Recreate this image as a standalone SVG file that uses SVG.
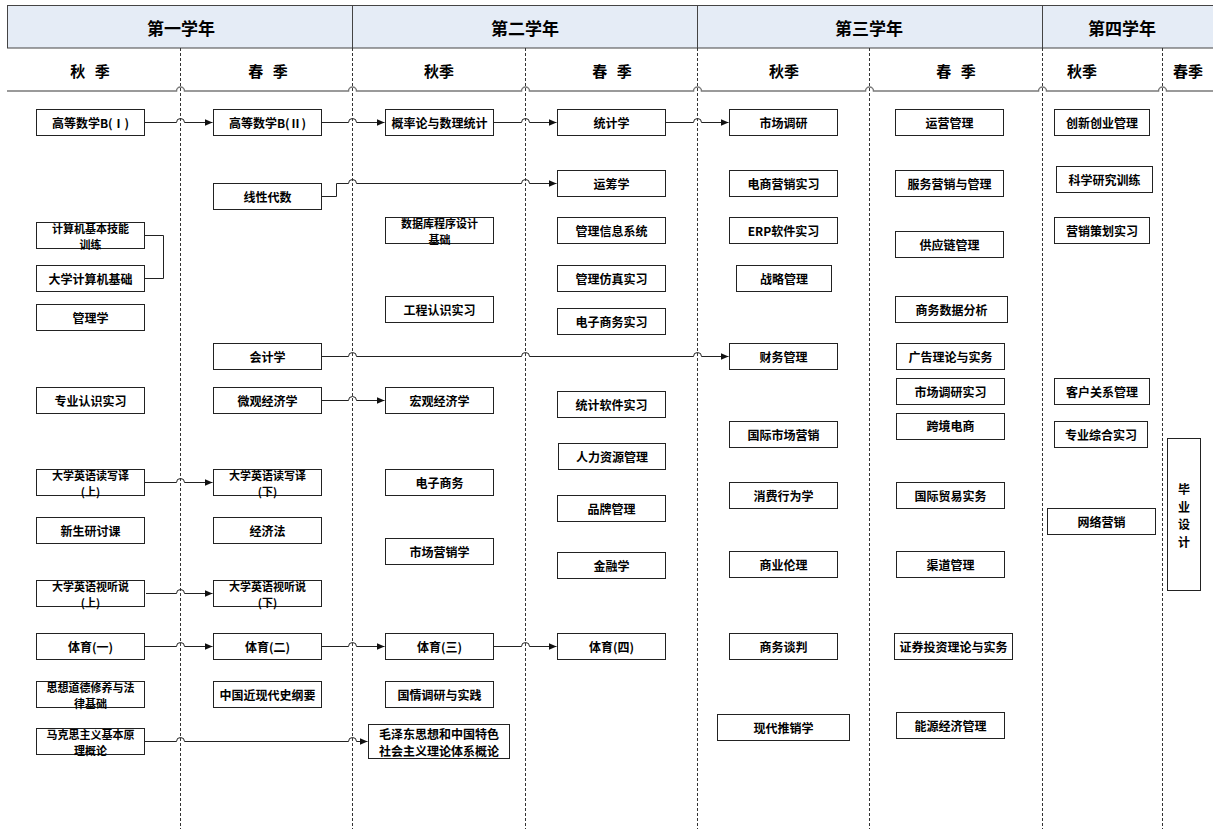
<svg xmlns="http://www.w3.org/2000/svg" width="1213" height="829" viewBox="0 0 1213 829">
<style>
.bg{fill:#ffffff}
.hdr{fill:#E5ECF6;stroke:#444;stroke-width:1}
.div{stroke:#444;stroke-width:1}
.dash{stroke:#333;stroke-width:1;stroke-dasharray:3,2;fill:none}
.sep{stroke:#7a7a7a;stroke-width:1.5;fill:none}
.yr{font-family:"Noto Sans CJK SC","Noto Sans",sans-serif;font-size:17px;font-weight:bold;fill:#000;text-anchor:middle;dominant-baseline:central}
.sm{font-family:"Noto Sans CJK SC","Noto Sans",sans-serif;font-size:15px;font-weight:bold;fill:#000;text-anchor:middle;dominant-baseline:central}
.box{fill:#fff;stroke:#222;stroke-width:1}
.t{font-family:"Noto Sans CJK SC","Noto Sans",sans-serif;font-size:12px;font-weight:bold;fill:#000;text-anchor:middle;dominant-baseline:central}
.t2{font-size:11px}
.c{stroke:#222;stroke-width:1;fill:none}
.a{marker-end:url(#arr)}
</style>
<defs>
<marker id="arr" markerUnits="userSpaceOnUse" markerWidth="9" markerHeight="8" refX="8" refY="3.5" orient="auto">
<path d="M0,0 L8,3.5 L0,7 z" fill="#111"/>
</marker>
</defs>
<rect class="bg" x="0" y="0" width="1213" height="829"/>
<g id="header">
<rect class="hdr" x="7.5" y="5.5" width="1210" height="42.5"/>
<line class="div" x1="352.5" y1="5.5" x2="352.5" y2="48"/>
<line class="div" x1="697.5" y1="5.5" x2="697.5" y2="48"/>
<line class="div" x1="1042.5" y1="5.5" x2="1042.5" y2="48"/>
<text class="yr" x="181" y="27">第一学年</text>
<text class="yr" x="525" y="27">第二学年</text>
<text class="yr" x="869" y="27">第三学年</text>
<text class="yr" x="1122" y="27">第四学年</text>
<text class="sm" x="90" y="70" word-spacing="6">秋 季</text>
<text class="sm" x="268" y="70" word-spacing="6">春 季</text>
<text class="sm" x="439" y="70">秋季</text>
<text class="sm" x="612" y="70" word-spacing="6">春 季</text>
<text class="sm" x="784" y="70">秋季</text>
<text class="sm" x="956" y="70" word-spacing="6">春 季</text>
<text class="sm" x="1082" y="70">秋季</text>
<text class="sm" x="1188" y="70">春季</text>
</g>
<g id="grid">
<line class="dash" x1="180.5" y1="48" x2="180.5" y2="829"/>
<line class="dash" x1="352.5" y1="48" x2="352.5" y2="829"/>
<line class="dash" x1="525.5" y1="48" x2="525.5" y2="829"/>
<line class="dash" x1="697.5" y1="48" x2="697.5" y2="829"/>
<line class="dash" x1="869.5" y1="48" x2="869.5" y2="829"/>
<line class="dash" x1="1042.5" y1="48" x2="1042.5" y2="829"/>
<line class="dash" x1="1162.5" y1="48" x2="1162.5" y2="829"/>
<path class="sep" d="M7,91 H176.5 a4,4 0 0 1 8,0 H348.5 a4,4 0 0 1 8,0 H521.5 a4,4 0 0 1 8,0 H693.5 a4,4 0 0 1 8,0 H865.5 a4,4 0 0 1 8,0 H1038.5 a4,4 0 0 1 8,0 H1158.5 a4,4 0 0 1 8,0 H1213"/>
</g>
<g id="connectors">
<path class="c a" d="M144,122.5 H176.5 a4,4 0 0 1 8,0 H212.5"/>
<path class="c a" d="M321,122.5 H348.5 a4,4 0 0 1 8,0 H384.5"/>
<path class="c a" d="M493,122.5 H521.5 a4,4 0 0 1 8,0 H556.5"/>
<path class="c a" d="M665,122.5 H693.5 a4,4 0 0 1 8,0 H728.5"/>
<path class="c a" d="M321,196.5 H336.5 V183.5 H348.5 a4,4 0 0 1 8,0 H521.5 a4,4 0 0 1 8,0 H556.5"/>
<path class="c" d="M144,235.5 H163.5 V278.5 H144"/>
<path class="c a" d="M321,356.5 H348.5 a4,4 0 0 1 8,0 H521.5 a4,4 0 0 1 8,0 H693.5 a4,4 0 0 1 8,0 H728.5"/>
<path class="c a" d="M321,400.5 H348.5 a4,4 0 0 1 8,0 H384.5"/>
<path class="c a" d="M144,482.5 H176.5 a4,4 0 0 1 8,0 H212.5"/>
<path class="c a" d="M146,593.5 H176.5 a4,4 0 0 1 8,0 H212.5"/>
<path class="c a" d="M144,646.5 H176.5 a4,4 0 0 1 8,0 H212.5"/>
<path class="c a" d="M321,646.5 H348.5 a4,4 0 0 1 8,0 H384.5"/>
<path class="c a" d="M493,646.5 H521.5 a4,4 0 0 1 8,0 H556.5"/>
<path class="c a" d="M144,741.5 H176.5 a4,4 0 0 1 8,0 H348.5 a4,4 0 0 1 8,0 H367.5"/>
</g>
<g id="n-gsb1"><rect class="box" x="36.5" y="109.5" width="108" height="26"/><text class="t" x="90.5" y="122.5">高等数学B(Ⅰ)</text></g>
<g id="n-jsjjn"><rect class="box" x="36.5" y="222.5" width="108" height="26"/><text class="t t2" x="90.5" y="227.5">计算机基本技能<tspan x="90.5" dy="16">训练</tspan></text></g>
<g id="n-dxjsj"><rect class="box" x="36.5" y="265.5" width="108" height="26"/><text class="t" x="90.5" y="278.5">大学计算机基础</text></g>
<g id="n-glx"><rect class="box" x="36.5" y="304.5" width="108" height="26"/><text class="t" x="90.5" y="317.5">管理学</text></g>
<g id="n-zyrs"><rect class="box" x="36.5" y="387.5" width="108" height="26"/><text class="t" x="90.5" y="400.5">专业认识实习</text></g>
<g id="n-dxdx1"><rect class="box" x="36.5" y="469.5" width="108" height="26"/><text class="t t2" x="90.5" y="474.5">大学英语读写译<tspan x="90.5" dy="16">(上)</tspan></text></g>
<g id="n-xsyt"><rect class="box" x="36.5" y="517.5" width="108" height="26"/><text class="t" x="90.5" y="530.5">新生研讨课</text></g>
<g id="n-dxst1"><rect class="box" x="36.5" y="580.5" width="108" height="26"/><text class="t t2" x="90.5" y="585.5">大学英语视听说<tspan x="90.5" dy="16">(上)</tspan></text></g>
<g id="n-ty1"><rect class="box" x="36.5" y="633.5" width="108" height="26"/><text class="t" x="90.5" y="646.5">体育(一)</text></g>
<g id="n-sxdd"><rect class="box" x="36.5" y="681.5" width="108" height="26"/><text class="t t2" x="90.5" y="686.5">思想道德修养与法<tspan x="90.5" dy="16">律基础</tspan></text></g>
<g id="n-mkszy"><rect class="box" x="36.5" y="728.5" width="108" height="26"/><text class="t t2" x="90.5" y="733.5">马克思主义基本原<tspan x="90.5" dy="16">理概论</tspan></text></g>

<g id="n-gsb2"><rect class="box" x="213.5" y="109.5" width="108" height="26"/><text class="t" x="267.5" y="122.5">高等数学B(Ⅱ)</text></g>
<g id="n-xxds"><rect class="box" x="213.5" y="183.5" width="108" height="26"/><text class="t" x="267.5" y="196.5">线性代数</text></g>
<g id="n-kjx"><rect class="box" x="213.5" y="343.5" width="108" height="26"/><text class="t" x="267.5" y="356.5">会计学</text></g>
<g id="n-wgjj"><rect class="box" x="213.5" y="387.5" width="108" height="26"/><text class="t" x="267.5" y="400.5">微观经济学</text></g>
<g id="n-dxdx2"><rect class="box" x="213.5" y="469.5" width="108" height="26"/><text class="t t2" x="267.5" y="474.5">大学英语读写译<tspan x="267.5" dy="16">(下)</tspan></text></g>
<g id="n-jjf"><rect class="box" x="213.5" y="517.5" width="108" height="26"/><text class="t" x="267.5" y="530.5">经济法</text></g>
<g id="n-dxst2"><rect class="box" x="213.5" y="580.5" width="108" height="26"/><text class="t t2" x="267.5" y="585.5">大学英语视听说<tspan x="267.5" dy="16">(下)</tspan></text></g>
<g id="n-ty2"><rect class="box" x="213.5" y="633.5" width="108" height="26"/><text class="t" x="267.5" y="646.5">体育(二)</text></g>
<g id="n-zgjxd"><rect class="box" x="213.5" y="681.5" width="108" height="26"/><text class="t" x="267.5" y="694.5">中国近现代史纲要</text></g>

<g id="n-gll"><rect class="box" x="385.5" y="109.5" width="108" height="26"/><text class="t" x="439.5" y="122.5">概率论与数理统计</text></g>
<g id="n-sjk"><rect class="box" x="385.5" y="217.5" width="108" height="26"/><text class="t t2" x="439.5" y="222.5">数据库程序设计<tspan x="439.5" dy="16">基础</tspan></text></g>
<g id="n-gcrs"><rect class="box" x="385.5" y="296.5" width="108" height="26"/><text class="t" x="439.5" y="309.5">工程认识实习</text></g>
<g id="n-hgjj"><rect class="box" x="385.5" y="387.5" width="108" height="26"/><text class="t" x="439.5" y="400.5">宏观经济学</text></g>
<g id="n-dzsw"><rect class="box" x="385.5" y="469.5" width="108" height="26"/><text class="t" x="439.5" y="482.5">电子商务</text></g>
<g id="n-scyx"><rect class="box" x="385.5" y="538.5" width="108" height="26"/><text class="t" x="439.5" y="551.5">市场营销学</text></g>
<g id="n-ty3"><rect class="box" x="385.5" y="633.5" width="108" height="26"/><text class="t" x="439.5" y="646.5">体育(三)</text></g>
<g id="n-gqdy"><rect class="box" x="385.5" y="681.5" width="108" height="26"/><text class="t" x="439.5" y="694.5">国情调研与实践</text></g>
<g id="n-mzd"><rect class="box" x="368.5" y="724.5" width="141" height="34"/><text class="t" x="439" y="733">毛泽东思想和中国特色<tspan x="439" dy="17">社会主义理论体系概论</tspan></text></g>

<g id="n-tjx"><rect class="box" x="557.5" y="109.5" width="108" height="26"/><text class="t" x="611.5" y="122.5">统计学</text></g>
<g id="n-ycx"><rect class="box" x="557.5" y="170.5" width="108" height="26"/><text class="t" x="611.5" y="183.5">运筹学</text></g>
<g id="n-glxx"><rect class="box" x="557.5" y="217.5" width="108" height="26"/><text class="t" x="611.5" y="230.5">管理信息系统</text></g>
<g id="n-glfz"><rect class="box" x="557.5" y="265.5" width="108" height="26"/><text class="t" x="611.5" y="278.5">管理仿真实习</text></g>
<g id="n-dzswsx"><rect class="box" x="557.5" y="308.5" width="108" height="26"/><text class="t" x="611.5" y="321.5">电子商务实习</text></g>
<g id="n-tjrj"><rect class="box" x="557.5" y="391.5" width="108" height="26"/><text class="t" x="611.5" y="404.5">统计软件实习</text></g>
<g id="n-rlzy"><rect class="box" x="558.5" y="443.5" width="107" height="26"/><text class="t" x="612" y="456.5">人力资源管理</text></g>
<g id="n-ppgl"><rect class="box" x="557.5" y="495.5" width="108" height="26"/><text class="t" x="611.5" y="508.5">品牌管理</text></g>
<g id="n-jrx"><rect class="box" x="557.5" y="552.5" width="108" height="26"/><text class="t" x="611.5" y="565.5">金融学</text></g>
<g id="n-ty4"><rect class="box" x="557.5" y="633.5" width="108" height="26"/><text class="t" x="611.5" y="646.5">体育(四)</text></g>

<g id="n-scdy"><rect class="box" x="729.5" y="109.5" width="108" height="26"/><text class="t" x="783.5" y="122.5">市场调研</text></g>
<g id="n-dsyx"><rect class="box" x="729.5" y="170.5" width="108" height="26"/><text class="t" x="783.5" y="183.5">电商营销实习</text></g>
<g id="n-erp"><rect class="box" x="729.5" y="217.5" width="108" height="26"/><text class="t" x="783.5" y="230.5">ERP软件实习</text></g>
<g id="n-zlgl"><rect class="box" x="736.5" y="265.5" width="95" height="26"/><text class="t" x="784" y="278.5">战略管理</text></g>
<g id="n-cwgl"><rect class="box" x="729.5" y="343.5" width="108" height="26"/><text class="t" x="783.5" y="356.5">财务管理</text></g>
<g id="n-gjsc"><rect class="box" x="729.5" y="421.5" width="108" height="26"/><text class="t" x="783.5" y="434.5">国际市场营销</text></g>
<g id="n-xfxw"><rect class="box" x="729.5" y="482.5" width="108" height="26"/><text class="t" x="783.5" y="495.5">消费行为学</text></g>
<g id="n-sylj"><rect class="box" x="729.5" y="551.5" width="108" height="26"/><text class="t" x="783.5" y="564.5">商业伦理</text></g>
<g id="n-swtp"><rect class="box" x="729.5" y="633.5" width="108" height="26"/><text class="t" x="783.5" y="646.5">商务谈判</text></g>
<g id="n-xdtx"><rect class="box" x="717.5" y="714.5" width="132" height="26"/><text class="t" x="783.5" y="727.5">现代推销学</text></g>

<g id="n-yygl"><rect class="box" x="895.5" y="109.5" width="108" height="26"/><text class="t" x="949.5" y="122.5">运营管理</text></g>
<g id="n-fwyx"><rect class="box" x="895.5" y="170.5" width="108" height="26"/><text class="t" x="949.5" y="183.5">服务营销与管理</text></g>
<g id="n-gyl"><rect class="box" x="895.5" y="231.5" width="108" height="26"/><text class="t" x="949.5" y="244.5">供应链管理</text></g>
<g id="n-swsj"><rect class="box" x="895.5" y="296.5" width="112" height="26"/><text class="t" x="951.5" y="309.5">商务数据分析</text></g>
<g id="n-ggll"><rect class="box" x="896.5" y="343.5" width="108" height="26"/><text class="t" x="950.5" y="356.5">广告理论与实务</text></g>
<g id="n-scdysx"><rect class="box" x="896.5" y="378.5" width="108" height="26"/><text class="t" x="950.5" y="391.5">市场调研实习</text></g>
<g id="n-kjds"><rect class="box" x="896.5" y="413.5" width="108" height="26"/><text class="t" x="950.5" y="425">跨境电商</text></g>
<g id="n-gjmy"><rect class="box" x="896.5" y="482.5" width="108" height="26"/><text class="t" x="950.5" y="495.5">国际贸易实务</text></g>
<g id="n-qdgl"><rect class="box" x="896.5" y="551.5" width="108" height="26"/><text class="t" x="950.5" y="564.5">渠道管理</text></g>
<g id="n-zqtz"><rect class="box" x="894.5" y="633.5" width="118" height="26"/><text class="t" x="953.5" y="646.5">证券投资理论与实务</text></g>
<g id="n-nyjj"><rect class="box" x="896.5" y="712.5" width="108" height="26"/><text class="t" x="950.5" y="725.5">能源经济管理</text></g>

<g id="n-cxcy"><rect class="box" x="1054.5" y="109.5" width="95" height="26"/><text class="t" x="1102" y="122.5">创新创业管理</text></g>
<g id="n-kxyj"><rect class="box" x="1056.5" y="166.5" width="96" height="26"/><text class="t" x="1104.5" y="179.5">科学研究训练</text></g>
<g id="n-yxch"><rect class="box" x="1054.5" y="217.5" width="95" height="26"/><text class="t" x="1102" y="230.5">营销策划实习</text></g>
<g id="n-khgx"><rect class="box" x="1054.5" y="378.5" width="95" height="26"/><text class="t" x="1102" y="391.5">客户关系管理</text></g>
<g id="n-zyzh"><rect class="box" x="1054.5" y="421.5" width="93" height="26"/><text class="t" x="1101" y="434.5">专业综合实习</text></g>
<g id="n-wlyx"><rect class="box" x="1047.5" y="508.5" width="108" height="26"/><text class="t" x="1101.5" y="521.5">网络营销</text></g>

<g id="n-bysj"><rect class="box" x="1167.5" y="438.5" width="33" height="152"/><text class="t" x="1184" y="488">毕<tspan x="1184" dy="17.5">业</tspan><tspan x="1184" dy="17.5">设</tspan><tspan x="1184" dy="17.5">计</tspan></text></g>
</svg>
